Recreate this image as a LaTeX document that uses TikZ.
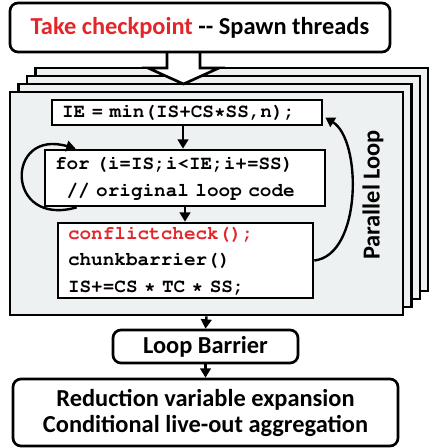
\documentclass[tikz,border=0pt]{standalone}
\usepackage[T1]{fontenc}
\usepackage{fontspec}
\setmainfont{Carlito}
\newcommand{\codefont}{\fontencoding{T1}\fontfamily{pcr}\fontseries{b}\selectfont}
\usetikzlibrary{arrows.meta,calc}
\definecolor{ckred}{RGB}{228,37,42}
\definecolor{framegray}{RGB}{238,241,242}
\tikzset{
    sbox/.style={draw=black, line width=2pt, rounded corners=6pt, fill=white, font=\fontsize{18.3}{19.5}\selectfont\bfseries, align=center, inner sep=0pt},
    cbox/.style={draw=black, line width=2pt, fill=white, font=\fontsize{14.5}{20}\codefont, align=left, inner xsep=7.5pt, inner ysep=0pt},
    fr/.style={draw=black, line width=2pt, fill=framegray, minimum width=294.75pt, minimum height=167.25pt, inner sep=0pt},
    e1/.style={draw=black, -{Triangle[length=7pt,width=8pt]}, line width=1.8pt}
}
\begin{document}
\begin{tikzpicture}[x=0.75pt, y=-0.75pt]
\useasboundingbox (0,0) rectangle (428,448);

% stacked thread frames (back to front)
\foreach \k in {3,2,1}
    \node[fr] (frame\k) at (206.5+8.5*\k, 203.5-8*\k) {};
\node[fr] (loop) at (206.5, 203.5) {};

% spawn arrow
\coordinate (spawn) at (183.5, 52);
\draw[line width=2pt, fill=white, line join=miter] (spawn) ++(-16.5,0) -- ++(0,16) -- ++(-19,0)
    -- ++(35.5,16) -- ++(35.5,-16) -- ++(-19,0) -- ++(0,-16);

% top box
\node[sbox, minimum width=285pt, minimum height=36.75pt] (top) at (200, 27.5)
    {\textcolor{ckred}{Take checkpoint} -{}- Spawn threads};

% loop body
\node[cbox, text width=187.5pt, minimum height=18.75pt] (ie) at (187, 112.5)
    {IE = min(IS+CS*SS,n);};
\node[cbox, text width=195pt, minimum height=42pt] (for) at (185, 178)
    {for (i=IS;i<IE;i+=SS)\\\hphantom{x}// original loop code};
\node[cbox, text width=176.25pt, minimum height=56.25pt] (chk) at (185.5, 260.5)
    {\textcolor{ckred}{conflictcheck();}\\chunkbarrier()\\IS+=CS * TC * SS;};

\node[font=\fontsize{18.3}{19.5}\selectfont\bfseries, rotate=90] (plabel) at (373, 195) {Parallel Loop};

% after the loop
\node[sbox, minimum width=138.75pt, minimum height=24.75pt] (barrier) at (205.5, 346.5) {Loop Barrier};
\node[sbox, minimum width=288.75pt, minimum height=50.25pt] (reduce) at (205.5, 412.5)
    {Reduction variable expansion\\Conditional live-out aggregation};

% arrows
\draw[e1] (ie.south -| 183,0) -- (183,0 |- for.north);
\draw[e1] (for.south -| 185,0) -- (185,0 |- chk.north);
\draw[e1] ($(for.south west)+(33,0)$) .. controls (5,228) and (5,128) .. ($(for.north west)+(32,0)$);
\draw[e1] (chk.east) .. controls (362,255) and (362,140) .. ($(ie.east)+(2,5)$);
\draw[e1] (loop.south) -- (barrier.north);
\draw[e1] (barrier.south) -- (reduce.north);

\end{tikzpicture}
\end{document}
